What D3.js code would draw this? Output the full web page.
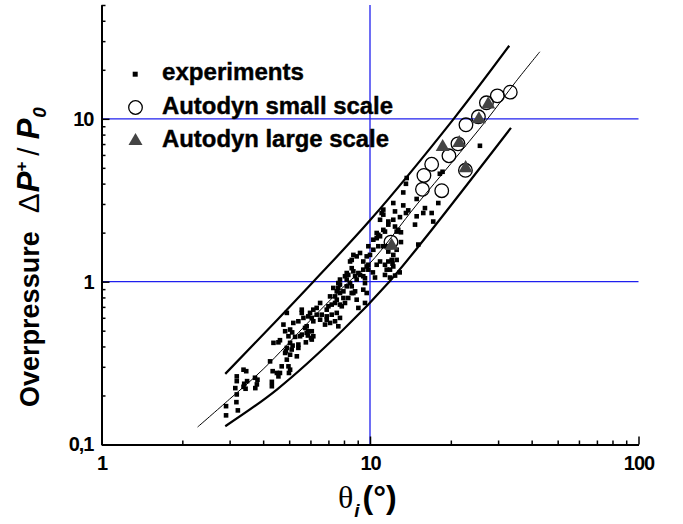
<!DOCTYPE html>
<html><head><meta charset="utf-8">
<script src="https://cdn.jsdelivr.net/npm/d3@7"></script>
<style>body{margin:0;background:#fff}svg{display:block}</style>
</head><body><svg id="chart" width="683" height="524"></svg>
<script>
// ---------- data ----------
const expX = [2.91,2.91,3.19,3.19,3.15,3.19,3.18,3.22,3.38,3.46,3.485,3.40,3.38,3.44,3.73,3.81,3.79,3.74,4.245,4.31,4.34,4.50,4.56,4.31,4.62,4.99,5.04,4.97,4.90,5.04,5.34,4.86,5.11,5.41,5.41,5.13,5.26,5.04,5.15,4.56,4.62,5.77,6.03,6.07,5.87,4.83,4.90,4.69,
4.37,4.76,4.83,4.97,5.04,5.18,5.41,5.65,5.57,5.57,5.73,5.89,5.57,6.07,5.81,6.15,5.81,5.49,4.90,5.89,5.98,6.07,6.15,6.15,6.33,6.33,6.52,6.61,6.90,7.20,7.52,7.73,7.62,7.10,6.80,6.52,6.90,7.41,6.90,7.00,7.20,7.10,7.41,7.52,7.73,8.07,7.96,7.85,8.30,8.92,8.67,9.58,9.05,9.72,9.44,8.80,8.55,7.73,7.96,7.52,7.30,7.62,7.41,7.73,7.62,8.19,8.55,8.43,8.92,9.44,9.58,9.58,8.19,7.73,8.30,8.67,9.05,8.19,8.07,8.80,9.18,8.55,8.43,8.55,8.67,8.92,9.18,9.44,9.44,9.72,9.86,9.86,9.72,10.0,9.86,
10.25,10.44,10.59,10.90,11.37,11.54,11.37,11.87,12.21,12.57,12.21,11.70,11.87,12.4,12.9,10.29,10.74,11.21,10.29,10.59,10.74,11.37,10.90,12.21,12.39,12.74,11.05,11.21,11.21,12.21,12.39,13.04,13.04,12.57,11.54,12.05,11.70,12.13,15.13,13.30,13.61,13.70,14.92,18.2,17.96,18.63,13.30,13.88,13.61,12.93,14.92,15.79,16.02,16.97,17.20,11.70,11.70,11.21,14.71,12.57,10.59,10.90,25.67];
const expY = [0.172,0.151,0.262,0.245,0.222,0.203,0.182,0.162,0.288,0.282,0.245,0.236,0.226,0.220,0.257,0.25,0.234,0.222,0.324,0.2425,0.282,0.275,0.262,0.228,0.275,0.275,0.288,0.302,0.332,0.356,0.348,0.374,0.383,0.411,0.392,0.488,0.458,0.421,0.405,0.424,0.437,0.424,0.451,0.496,0.467,0.365,0.392,0.302,
0.421,0.545,0.496,0.462,0.508,0.558,0.571,0.599,0.643,0.673,0.520,0.496,0.473,0.441,0.532,0.462,0.485,0.462,0.643,0.612,0.643,0.599,0.571,0.673,0.690,0.627,0.740,0.627,0.612,0.627,0.643,0.599,0.532,0.558,0.545,0.584,0.584,0.571,0.673,0.706,0.723,0.812,0.740,0.775,0.723,0.740,0.794,0.706,0.794,0.775,0.852,0.740,0.690,0.852,0.893,0.872,0.852,0.852,0.872,0.872,0.915,0.915,0.812,0.96,0.98,0.936,0.936,0.98,1.03,1.08,1.05,0.98,1.03,1.03,1.10,1.157,1.13,1.13,1.08,1.08,1.10,1.21,1.33,1.36,1.46,1.43,1.50,1.33,1.185,1.24,1.185,1.27,1.43,1.46,1.65,
1.14,1.06,1.27,1.33,1.27,1.185,1.10,1.185,1.24,1.36,1.46,1.53,1.06,1.09,1.14,1.57,1.65,1.65,1.81,1.85,1.94,2.03,2.40,2.40,2.18,2.08,2.64,2.58,2.77,3.04,2.70,1.75,2.01,1.57,1.65,1.36,1.33,1.29,1.69,3.53,3.99,4.33,3.22,4.6,3.04,4.73,2.94,2.74,2.64,2.49,2.52,2.64,2.83,2.64,2.34,2.34,2.24,2.08,2.24,2.03,1.99,1.90,6.83];

const smallX = [33.3,29.8,27.14,25.34,22.77,21.26,19.68,16.97,15.88,15.68,18.50,22.67,11.97];
const smallY = [14.58,13.84,12.54,10.29,9.19,7.02,5.93,5.26,4.49,3.69,3.62,4.83,1.75];

const largeX = [18.65,21.50,22.71,25.45,27.56,12.04];
const largeY = [6.71,7.10,4.98,9.93,12.27,1.66];

const upperX = [2.89,4.5,6.15,10,20.5,33.0];
const upperY = [0.2715,0.58,1.0,2.38,10,28.1];
const midX = [2.28,3.0,4.0,6.0,8.35,10,15,20,27.4,35,42.9];
const midY = [0.128,0.19,0.29,0.58,1.0,1.3,3.0,5.3,10,17,25.8];
const lowerX = [2.89,4.5,7.96,11.8,16,33.5];
const lowerY = [0.1295,0.2175,0.508,1.0,1.84,8.8];

const xTickValues = [1,10,100];
const xTickLabels = ["1","10","100"];
const xMinorTicks = [2,3,4,5,6,7,8,9,20,30,40,50,60,70,80,90];
const yTickValues = [0.1,1,10];
const yTickLabels = ["0,1","1","10"];
const yMinorTicks = [0.2,0.3,0.4,0.5,0.6,0.7,0.8,0.9,2,3,4,5,6,7,8,9,20,30,40,50];
const gridX = [10];
const gridY = [1,10];
const legendLabels = ["experiments","Autodyn small scale","Autodyn large scale"];

// ---------- drawing ----------
const svg = d3.select("#chart");
const FONT = "'Liberation Sans', Arial, Helvetica, sans-serif";
const x = d3.scaleLog().domain([1,100]).range([101.5,638.5]);
const y = d3.scaleLog().domain([0.1,50]).range([444.5,5]);

// blue reference lines
svg.append("g").selectAll("line").data(gridY).join("line")
  .attr("x1",x(1)).attr("x2",x(100)).attr("y1",d=>y(d)).attr("y2",d=>y(d))
  .attr("stroke","#1f1fee").attr("stroke-width",1.3);
svg.append("g").selectAll("line").data(gridX).join("line")
  .attr("y1",y(50)).attr("y2",y(0.1)).attr("x1",d=>x(d)).attr("x2",d=>x(d))
  .attr("stroke","#1f1fee").attr("stroke-width",1.3);

// axes
function styleAxis(g){
  g.selectAll("path.domain").attr("stroke","#000").attr("stroke-width",2);
  g.selectAll(".tick line").attr("stroke","#000").attr("stroke-width",1.5);
  g.selectAll(".tick text").attr("fill","#000").style("font-family",FONT)
    .style("font-weight","bold").style("font-size","20px").style("letter-spacing","-1px");
}
const xMinor = svg.append("g").attr("transform",`translate(0,${y(0.1)})`)
  .call(d3.axisBottom(x).tickValues(xMinorTicks).tickSize(-4).tickSizeOuter(0).tickFormat(""));
styleAxis(xMinor);
const xMajor = svg.append("g").attr("transform",`translate(0,${y(0.1)})`)
  .call(d3.axisBottom(x).tickValues(xTickValues).tickSize(-8).tickSizeOuter(0).tickPadding(11)
    .tickFormat((d,i)=>xTickLabels[i]));
styleAxis(xMajor);
const yMinor = svg.append("g").attr("transform",`translate(${x(1)},0)`)
  .call(d3.axisLeft(y).tickValues(yMinorTicks).tickSize(-4).tickSizeOuter(0).tickFormat(""));
styleAxis(yMinor);
const yMajor = svg.append("g").attr("transform",`translate(${x(1)},0)`)
  .call(d3.axisLeft(y).tickValues(yTickValues).tickSize(-8).tickSizeOuter(0).tickPadding(8)
    .tickFormat((d,i)=>yTickLabels[i]));
styleAxis(yMajor);

// curves
const line = d3.line().x(d=>x(d[0])).y(d=>y(d[1])).curve(d3.curveCatmullRom.alpha(0.5));
const curves = [
  {xs:upperX, ys:upperY, w:2.2},
  {xs:midX, ys:midY, w:1},
  {xs:lowerX, ys:lowerY, w:2.2}
];
svg.append("g").selectAll("path").data(curves).join("path")
  .attr("d",c=>line(c.xs.map((v,i)=>[v,c.ys[i]])))
  .attr("fill","none").attr("stroke","#000").attr("stroke-width",c=>c.w);

// experiments
const S = 4.6;
svg.append("g").selectAll("rect").data(expX.map((v,i)=>[v,expY[i]])).join("rect")
  .attr("x",d=>x(d[0])-S/2).attr("y",d=>y(d[1])-S/2).attr("width",S).attr("height",S)
  .attr("fill","#000");

// autodyn small scale
svg.append("g").selectAll("circle").data(smallX.map((v,i)=>[v,smallY[i]])).join("circle")
  .attr("cx",d=>x(d[0])).attr("cy",d=>y(d[1])).attr("r",6.8)
  .attr("fill","none").attr("stroke","#000").attr("stroke-width",1.3);

// autodyn large scale
const tri = d3.symbol().type(d3.symbolTriangle).size(85);
svg.append("g").selectAll("path").data(largeX.map((v,i)=>[v,largeY[i]])).join("path")
  .attr("transform",d=>`translate(${x(d[0])},${y(d[1])})`).attr("d",tri)
  .attr("fill","#444");

// legend
const lg = svg.append("g");
lg.append("rect").attr("x",135.2-2.5).attr("y",74.2-2.5).attr("width",5).attr("height",5).attr("fill","#000");
lg.append("circle").attr("cx",135.5).attr("cy",107.5).attr("r",6.8).attr("fill","none").attr("stroke","#000").attr("stroke-width",1.3);
lg.append("path").attr("transform","translate(135.5,141)").attr("d",tri).attr("fill","#444");
const legY = [80,114,147];
const legW = [142,231,227];
lg.selectAll("text").data(legendLabels).join("text")
  .attr("x",162).attr("y",(d,i)=>legY[i]).text(d=>d)
  .attr("textLength",(d,i)=>legW[i]).attr("lengthAdjust","spacingAndGlyphs")
  .style("font-family",FONT).style("font-weight","bold").style("font-size","23px")
  .attr("fill","#000").attr("stroke","#000").attr("stroke-width",0.4);

// x title
const xt = svg.append("text").attr("x",338).attr("y",508).attr("fill","#000");
xt.append("tspan").text("θ").style("font-family","'Liberation Serif','Times New Roman',serif").style("font-size","32px");
xt.append("tspan").text("i").attr("dy",9).attr("dx",1).style("font-family",FONT).style("font-style","italic").style("font-weight","bold").style("font-size","19px");
xt.append("tspan").text("(°)").attr("dy",-9).attr("dx",3).style("font-family",FONT).style("font-weight","bold").style("font-size","32px");

// y title
const yt = svg.append("text").attr("transform","translate(39,257) rotate(-90)")
  .attr("text-anchor","middle").attr("fill","#000");
yt.append("tspan").text("Overpressure").style("font-family",FONT).style("font-weight","bold").style("font-size","27px");
yt.append("tspan").text("Δ").attr("dx",18).style("font-family",FONT).style("font-size","30px");
yt.append("tspan").text("P").attr("dx",1).style("font-family",FONT).style("font-weight","bold").style("font-style","italic").style("font-size","31px");
yt.append("tspan").text("+").attr("dy",-12).style("font-family",FONT).style("font-weight","bold").style("font-size","17px");
yt.append("tspan").text("/").attr("dy",12).attr("dx",6).style("font-family",FONT).style("font-size","30px");
yt.append("tspan").text("P").attr("dx",8).style("font-family",FONT).style("font-weight","bold").style("font-style","italic").style("font-size","31px");
yt.append("tspan").text("0").attr("dy",7).attr("dx",1).style("font-family",FONT).style("font-weight","bold").style("font-style","italic").style("font-size","19px");
</script></body></html>
